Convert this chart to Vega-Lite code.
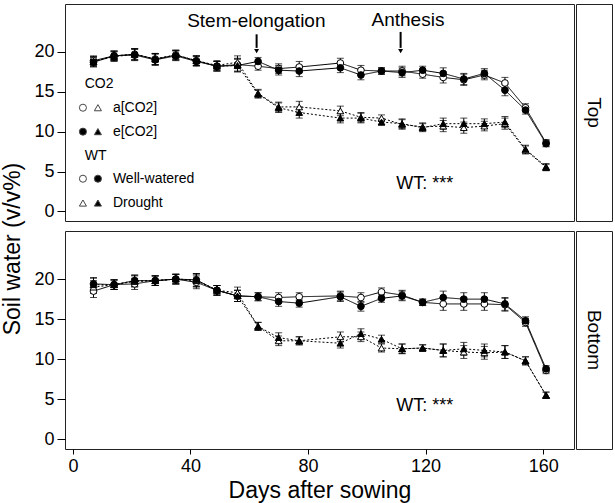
{
  "$schema": "https://vega.github.io/schema/vega-lite/v6.json",
  "padding": {"left": 1, "top": 3, "right": 1, "bottom": 0},
  "spacing": 8,
  "config": {
    "font": "Liberation Sans",
    "view": {"stroke": "#222", "strokeWidth": 1},
    "axis": {"grid": false, "domain": false, "labelFontSize": 18, "titleFontSize": 23, "titleFontWeight": "normal", "labelColor": "black", "titleColor": "black", "tickColor": "black", "labelFont": "Liberation Sans", "titleFont": "Liberation Sans"},
    "text": {"font": "Liberation Sans", "color": "black"}
  },
  "datasets": {
    "sw": [
      {"p": "Top", "d": 7, "aW": 18.9, "eW": 18.7, "aD": 18.8, "eD": 18.8, "e": 0.6},
      {"p": "Top", "d": 14, "aW": 19.5, "eW": 19.5, "aD": 19.5, "eD": 19.4, "e": 0.6},
      {"p": "Top", "d": 21, "aW": 19.7, "eW": 19.6, "aD": 19.7, "eD": 19.7, "e": 0.7},
      {"p": "Top", "d": 28, "aW": 19.1, "eW": 19.0, "aD": 19.1, "eD": 19.1, "e": 0.7},
      {"p": "Top", "d": 35, "aW": 19.6, "eW": 19.5, "aD": 19.6, "eD": 19.6, "e": 0.6},
      {"p": "Top", "d": 42, "aW": 18.9, "eW": 18.8, "aD": 18.9, "eD": 18.9, "e": 0.6},
      {"p": "Top", "d": 49, "aW": 18.2, "eW": 18.2, "aD": 18.3, "eD": 18.2, "e": 0.6},
      {"p": "Top", "d": 56, "aW": 18.4, "eW": 18.3, "aD": 18.7, "eD": 18.3, "e": 0.8},
      {"p": "Top", "d": 63, "aW": 18.2, "eW": 18.8, "aD": 14.8, "eD": 14.7, "e": 0.5},
      {"p": "Top", "d": 70, "aW": 17.9, "eW": 17.7, "aD": 13.1, "eD": 13.0, "e": 0.6},
      {"p": "Top", "d": 77, "aW": 18.1, "eW": 17.6, "aD": 13.1, "eD": 12.4, "e": 0.7},
      {"p": "Top", "d": 91, "aW": 18.6, "eW": 18.0, "aD": 12.6, "eD": 11.7, "e": 0.6},
      {"p": "Top", "d": 98, "aW": 17.7, "eW": 17.1, "aD": 11.8, "eD": 11.7, "e": 0.6},
      {"p": "Top", "d": 105, "aW": 17.6, "eW": 17.6, "aD": 11.7, "eD": 11.2, "e": 0.4},
      {"p": "Top", "d": 112, "aW": 17.6, "eW": 17.4, "aD": 10.9, "eD": 11.0, "e": 0.6},
      {"p": "Top", "d": 119, "aW": 17.2, "eW": 17.7, "aD": 10.6, "eD": 10.5, "e": 0.5},
      {"p": "Top", "d": 126, "aW": 16.8, "eW": 17.3, "aD": 10.7, "eD": 11.0, "e": 0.7},
      {"p": "Top", "d": 133, "aW": 16.5, "eW": 16.6, "aD": 10.5, "eD": 11.0, "e": 0.7},
      {"p": "Top", "d": 140, "aW": 17.1, "eW": 17.3, "aD": 10.7, "eD": 11.0, "e": 0.6},
      {"p": "Top", "d": 147, "aW": 16.1, "eW": 15.2, "aD": 11.0, "eD": 11.2, "e": 0.7},
      {"p": "Top", "d": 154, "aW": 13.0, "eW": 12.7, "aD": 7.7, "eD": 7.8, "e": 0.5},
      {"p": "Top", "d": 161, "aW": 8.6, "eW": 8.5, "aD": 5.5, "eD": 5.6, "e": 0.4},
      {"p": "Bottom", "d": 7, "aW": 18.5, "eW": 19.4, "aD": 19.0, "eD": 19.3, "e": 0.8},
      {"p": "Bottom", "d": 14, "aW": 19.3, "eW": 19.3, "aD": 19.3, "eD": 19.3, "e": 0.6},
      {"p": "Bottom", "d": 21, "aW": 19.4, "eW": 19.8, "aD": 19.7, "eD": 19.8, "e": 0.7},
      {"p": "Bottom", "d": 28, "aW": 19.8, "eW": 19.8, "aD": 19.8, "eD": 19.8, "e": 0.6},
      {"p": "Bottom", "d": 35, "aW": 20.0, "eW": 20.0, "aD": 20.0, "eD": 20.0, "e": 0.6},
      {"p": "Bottom", "d": 42, "aW": 19.6, "eW": 19.9, "aD": 19.8, "eD": 19.9, "e": 0.8},
      {"p": "Bottom", "d": 49, "aW": 18.6, "eW": 18.6, "aD": 18.6, "eD": 18.6, "e": 0.6},
      {"p": "Bottom", "d": 56, "aW": 17.9, "eW": 17.9, "aD": 18.3, "eD": 17.9, "e": 0.7},
      {"p": "Bottom", "d": 63, "aW": 17.8, "eW": 17.8, "aD": 14.1, "eD": 14.1, "e": 0.5},
      {"p": "Bottom", "d": 70, "aW": 17.7, "eW": 17.2, "aD": 12.3, "eD": 12.7, "e": 0.6},
      {"p": "Bottom", "d": 77, "aW": 17.8, "eW": 17.0, "aD": 12.3, "eD": 12.3, "e": 0.5},
      {"p": "Bottom", "d": 91, "aW": 17.9, "eW": 17.8, "aD": 12.8, "eD": 12.0, "e": 0.6},
      {"p": "Bottom", "d": 98, "aW": 17.7, "eW": 16.6, "aD": 12.8, "eD": 13.2, "e": 0.6},
      {"p": "Bottom", "d": 105, "aW": 18.4, "eW": 17.6, "aD": 11.4, "eD": 12.5, "e": 0.5},
      {"p": "Bottom", "d": 112, "aW": 18.0, "eW": 17.9, "aD": 11.3, "eD": 11.3, "e": 0.6},
      {"p": "Bottom", "d": 119, "aW": 17.1, "eW": 17.1, "aD": 11.4, "eD": 11.4, "e": 0.4},
      {"p": "Bottom", "d": 126, "aW": 16.9, "eW": 17.7, "aD": 11.1, "eD": 11.1, "e": 0.8},
      {"p": "Bottom", "d": 133, "aW": 16.9, "eW": 17.5, "aD": 10.9, "eD": 11.3, "e": 0.8},
      {"p": "Bottom", "d": 140, "aW": 16.9, "eW": 17.5, "aD": 10.8, "eD": 11.1, "e": 0.8},
      {"p": "Bottom", "d": 147, "aW": 16.8, "eW": 16.9, "aD": 10.9, "eD": 10.9, "e": 0.8},
      {"p": "Bottom", "d": 154, "aW": 14.6, "eW": 14.8, "aD": 9.8, "eD": 9.8, "e": 0.5},
      {"p": "Bottom", "d": 161, "aW": 8.6, "eW": 8.8, "aD": 5.5, "eD": 5.5, "e": 0.4}
    ]
  },
  "hconcat": [
    {
      "width": 21,
      "height": 490,
      "view": {"stroke": null},
      "data": {"values": [{"t": "Soil water (v/v%)"}]},
      "mark": {"type": "text", "angle": 270, "fontSize": 23, "align": "center", "baseline": "middle"},
      "encoding": {"text": {"field": "t"}}
    },
    {
      "spacing": 8,
      "vconcat": [
        {
          "spacing": 0,
          "hconcat": [
            {
              "width": 509,
              "height": 217,
              "layer": [
                {
                  "data": {"name": "sw"},
                  "transform": [{"filter": "datum.p === 'Top'"}, {"fold": ["aW", "eW", "aD", "eD"], "as": ["k", "v"]}],
                  "layer": [
                    {
                      "mark": {"type": "line", "color": "black", "strokeWidth": 1},
                      "encoding": {
                        "x": {"field": "d", "type": "quantitative", "scale": {"domain": [-2.7, 170.5], "nice": false, "zero": false}, "axis": null},
                        "y": {"field": "v", "type": "quantitative", "scale": {"domain": [-1.2, 26], "nice": false, "zero": false}, "axis": {"title": null, "values": [0, 5, 10, 15, 20], "tickSize": 8, "labelPadding": 3}},
                        "detail": {"field": "k"},
                        "strokeDash": {"field": "k", "type": "nominal", "scale": {"domain": ["aW", "eW", "aD", "eD"], "range": [[1, 0], [1, 0], [2, 2], [2, 2]]}, "legend": null}
                      }
                    },
                    {
                      "mark": {"type": "errorbar", "ticks": {"size": 7}, "color": "black"},
                      "encoding": {
                        "x": {"field": "d", "type": "quantitative", "scale": {"domain": [-2.7, 170.5], "nice": false, "zero": false}, "axis": null},
                        "y": {"field": "v", "type": "quantitative", "scale": {"domain": [-1.2, 26], "nice": false, "zero": false}, "axis": {"title": null, "values": [0, 5, 10, 15, 20], "tickSize": 8, "labelPadding": 3}},
                        "yError": {"field": "e"}
                      }
                    },
                    {
                      "mark": {"type": "point", "filled": true, "stroke": "black", "strokeWidth": 1, "opacity": 1, "size": 45},
                      "encoding": {
                        "x": {"field": "d", "type": "quantitative", "scale": {"domain": [-2.7, 170.5], "nice": false, "zero": false}, "axis": null},
                        "y": {"field": "v", "type": "quantitative", "scale": {"domain": [-1.2, 26], "nice": false, "zero": false}, "axis": {"title": null, "values": [0, 5, 10, 15, 20], "tickSize": 8, "labelPadding": 3}},
                        "shape": {"field": "k", "type": "nominal", "scale": {"domain": ["aW", "eW", "aD", "eD"], "range": ["circle", "circle", "triangle-up", "triangle-up"]}, "legend": null},
                        "fill": {"field": "k", "type": "nominal", "scale": {"domain": ["aW", "eW", "aD", "eD"], "range": ["white", "black", "white", "black"]}, "legend": null}
                      }
                    }
                  ]
                },
                {
                  "data": {"values": [
                    {"d": 4, "v": 16.0, "t": "CO2"},
                    {"d": 13.6, "v": 13.0, "t": "a[CO2]"},
                    {"d": 13.6, "v": 10.0, "t": "e[CO2]"},
                    {"d": 4, "v": 7.0, "t": "WT"},
                    {"d": 13.6, "v": 4.1, "t": "Well-watered"},
                    {"d": 13.6, "v": 1.05, "t": "Drought"}
                  ]},
                  "mark": {"type": "text", "align": "left", "baseline": "middle", "fontSize": 14},
                  "encoding": {
                    "x": {"field": "d", "type": "quantitative", "scale": {"domain": [-2.7, 170.5], "nice": false, "zero": false}, "axis": null},
                    "y": {"field": "v", "type": "quantitative", "scale": {"domain": [-1.2, 26], "nice": false, "zero": false}, "axis": {"title": null, "values": [0, 5, 10, 15, 20], "tickSize": 8, "labelPadding": 3}},
                    "text": {"field": "t"}
                  }
                },
                {
                  "data": {"values": [
                    {"d": 3.4, "v": 13.0, "k": "aW"},
                    {"d": 8.5, "v": 13.0, "k": "aD"},
                    {"d": 3.4, "v": 10.0, "k": "eW"},
                    {"d": 8.5, "v": 10.0, "k": "eD"},
                    {"d": 3.4, "v": 4.1, "k": "aW"},
                    {"d": 8.5, "v": 4.1, "k": "eW"},
                    {"d": 3.4, "v": 1.05, "k": "aD"},
                    {"d": 8.5, "v": 1.05, "k": "eD"}
                  ]},
                  "mark": {"type": "point", "filled": true, "stroke": "#444", "strokeWidth": 1, "opacity": 1, "size": 50},
                  "encoding": {
                    "x": {"field": "d", "type": "quantitative", "scale": {"domain": [-2.7, 170.5], "nice": false, "zero": false}, "axis": null},
                    "y": {"field": "v", "type": "quantitative", "scale": {"domain": [-1.2, 26], "nice": false, "zero": false}, "axis": {"title": null, "values": [0, 5, 10, 15, 20], "tickSize": 8, "labelPadding": 3}},
                    "shape": {"field": "k", "type": "nominal", "scale": {"domain": ["aW", "eW", "aD", "eD"], "range": ["circle", "circle", "triangle-up", "triangle-up"]}, "legend": null},
                    "fill": {"field": "k", "type": "nominal", "scale": {"domain": ["aW", "eW", "aD", "eD"], "range": ["white", "black", "white", "black"]}, "legend": null}
                  }
                },
                {
                  "data": {"values": [
                    {"d": 62.4, "v": 23.9, "t": "Stem-elongation"},
                    {"d": 114, "v": 24.0, "t": "Anthesis"}
                  ]},
                  "mark": {"type": "text", "align": "center", "baseline": "middle", "fontSize": 19},
                  "encoding": {
                    "x": {"field": "d", "type": "quantitative", "scale": {"domain": [-2.7, 170.5], "nice": false, "zero": false}, "axis": null},
                    "y": {"field": "v", "type": "quantitative", "scale": {"domain": [-1.2, 26], "nice": false, "zero": false}, "axis": {"title": null, "values": [0, 5, 10, 15, 20], "tickSize": 8, "labelPadding": 3}},
                    "text": {"field": "t"}
                  }
                },
                {
                  "data": {"values": [{"d": 119.7, "v": 3.4, "t": "WT: ***"}]},
                  "mark": {"type": "text", "align": "center", "baseline": "middle", "fontSize": 18},
                  "encoding": {
                    "x": {"field": "d", "type": "quantitative", "scale": {"domain": [-2.7, 170.5], "nice": false, "zero": false}, "axis": null},
                    "y": {"field": "v", "type": "quantitative", "scale": {"domain": [-1.2, 26], "nice": false, "zero": false}, "axis": {"title": null, "values": [0, 5, 10, 15, 20], "tickSize": 8, "labelPadding": 3}},
                    "text": {"field": "t"}
                  }
                },
                {
                  "data": {"values": [
                    {"d": 62.5, "v": 22.2, "v2": 20.5},
                    {"d": 111.5, "v": 22.5, "v2": 20.5}
                  ]},
                  "mark": {"type": "rule", "color": "black", "strokeWidth": 2},
                  "encoding": {
                    "x": {"field": "d", "type": "quantitative", "scale": {"domain": [-2.7, 170.5], "nice": false, "zero": false}, "axis": null},
                    "y": {"field": "v", "type": "quantitative", "scale": {"domain": [-1.2, 26], "nice": false, "zero": false}, "axis": {"title": null, "values": [0, 5, 10, 15, 20], "tickSize": 8, "labelPadding": 3}},
                    "y2": {"field": "v2"}
                  }
                },
                {
                  "data": {"values": [
                    {"d": 62.5, "v": 20.1},
                    {"d": 111.5, "v": 20.1}
                  ]},
                  "mark": {"type": "point", "shape": "triangle-down", "filled": true, "color": "black", "opacity": 1, "size": 25},
                  "encoding": {
                    "x": {"field": "d", "type": "quantitative", "scale": {"domain": [-2.7, 170.5], "nice": false, "zero": false}, "axis": null},
                    "y": {"field": "v", "type": "quantitative", "scale": {"domain": [-1.2, 26], "nice": false, "zero": false}, "axis": {"title": null, "values": [0, 5, 10, 15, 20], "tickSize": 8, "labelPadding": 3}}
                  }
                }
              ]
            },
            {
              "width": 36,
              "height": 217,
              "data": {"values": [{"t": "Top", "px": 0.5, "py": 0.5}]},
              "mark": {"type": "text", "angle": 90, "fontSize": 19, "align": "center", "baseline": "middle"},
              "encoding": {
                "x": {"field": "px", "type": "quantitative", "scale": {"domain": [0, 1]}, "axis": null},
                "y": {"field": "py", "type": "quantitative", "scale": {"domain": [0, 1]}, "axis": null},
                "text": {"field": "t"}
              }
            }
          ]
        },
        {
          "spacing": 0,
          "hconcat": [
            {
              "width": 509,
              "height": 218,
              "layer": [
                {
                  "data": {"name": "sw"},
                  "transform": [{"filter": "datum.p === 'Bottom'"}, {"fold": ["aW", "eW", "aD", "eD"], "as": ["k", "v"]}],
                  "layer": [
                    {
                      "mark": {"type": "line", "color": "black", "strokeWidth": 1},
                      "encoding": {
                        "x": {"field": "d", "type": "quantitative", "scale": {"domain": [-2.7, 170.5], "nice": false, "zero": false}, "axis": {"title": "Days after sowing", "values": [0, 40, 80, 120, 160], "tickSize": 5, "labelPadding": 3, "titlePadding": 4}},
                        "y": {"field": "v", "type": "quantitative", "scale": {"domain": [-1.2, 26], "nice": false, "zero": false}, "axis": {"title": null, "values": [0, 5, 10, 15, 20], "tickSize": 8, "labelPadding": 3}},
                        "detail": {"field": "k"},
                        "strokeDash": {"field": "k", "type": "nominal", "scale": {"domain": ["aW", "eW", "aD", "eD"], "range": [[1, 0], [1, 0], [2, 2], [2, 2]]}, "legend": null}
                      }
                    },
                    {
                      "mark": {"type": "errorbar", "ticks": {"size": 7}, "color": "black"},
                      "encoding": {
                        "x": {"field": "d", "type": "quantitative", "scale": {"domain": [-2.7, 170.5], "nice": false, "zero": false}, "axis": {"title": "Days after sowing", "values": [0, 40, 80, 120, 160], "tickSize": 5, "labelPadding": 3, "titlePadding": 4}},
                        "y": {"field": "v", "type": "quantitative", "scale": {"domain": [-1.2, 26], "nice": false, "zero": false}, "axis": {"title": null, "values": [0, 5, 10, 15, 20], "tickSize": 8, "labelPadding": 3}},
                        "yError": {"field": "e"}
                      }
                    },
                    {
                      "mark": {"type": "point", "filled": true, "stroke": "black", "strokeWidth": 1, "opacity": 1, "size": 45},
                      "encoding": {
                        "x": {"field": "d", "type": "quantitative", "scale": {"domain": [-2.7, 170.5], "nice": false, "zero": false}, "axis": {"title": "Days after sowing", "values": [0, 40, 80, 120, 160], "tickSize": 5, "labelPadding": 3, "titlePadding": 4}},
                        "y": {"field": "v", "type": "quantitative", "scale": {"domain": [-1.2, 26], "nice": false, "zero": false}, "axis": {"title": null, "values": [0, 5, 10, 15, 20], "tickSize": 8, "labelPadding": 3}},
                        "shape": {"field": "k", "type": "nominal", "scale": {"domain": ["aW", "eW", "aD", "eD"], "range": ["circle", "circle", "triangle-up", "triangle-up"]}, "legend": null},
                        "fill": {"field": "k", "type": "nominal", "scale": {"domain": ["aW", "eW", "aD", "eD"], "range": ["white", "black", "white", "black"]}, "legend": null}
                      }
                    }
                  ]
                },
                {
                  "data": {"values": [{"d": 119.7, "v": 4.2, "t": "WT: ***"}]},
                  "mark": {"type": "text", "align": "center", "baseline": "middle", "fontSize": 18},
                  "encoding": {
                    "x": {"field": "d", "type": "quantitative", "scale": {"domain": [-2.7, 170.5], "nice": false, "zero": false}, "axis": {"title": "Days after sowing", "values": [0, 40, 80, 120, 160], "tickSize": 5, "labelPadding": 3, "titlePadding": 4}},
                    "y": {"field": "v", "type": "quantitative", "scale": {"domain": [-1.2, 26], "nice": false, "zero": false}, "axis": {"title": null, "values": [0, 5, 10, 15, 20], "tickSize": 8, "labelPadding": 3}},
                    "text": {"field": "t"}
                  }
                }
              ]
            },
            {
              "width": 36,
              "height": 218,
              "data": {"values": [{"t": "Bottom", "px": 0.5, "py": 0.5}]},
              "mark": {"type": "text", "angle": 90, "fontSize": 19, "align": "center", "baseline": "middle"},
              "encoding": {
                "x": {"field": "px", "type": "quantitative", "scale": {"domain": [0, 1]}, "axis": null},
                "y": {"field": "py", "type": "quantitative", "scale": {"domain": [0, 1]}, "axis": null},
                "text": {"field": "t"}
              }
            }
          ]
        }
      ]
    }
  ]
}
